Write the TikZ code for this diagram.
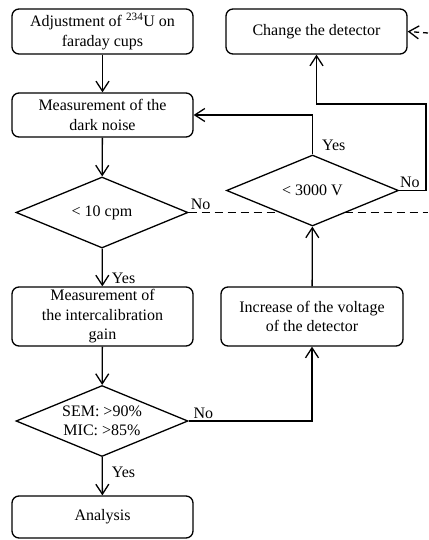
\documentclass[tikz,border=0pt]{standalone}
\usepackage{fontspec}
\setmainfont{Liberation Serif}
\usetikzlibrary{shapes.geometric,arrows.meta}
\tikzset{
  box/.style={draw,rounded corners=7pt,minimum width=181pt,inner sep=0pt,align=center,font=\fontsize{16}{19.5}\selectfont},
  test/.style={draw,diamond,aspect=2.4,minimum width=172pt,minimum height=71pt,inner sep=0pt,fill=white,align=center,font=\fontsize{16}{19.5}\selectfont},
  arr/.style={-{Straight Barb[length=10pt,width=13pt]}},
  lbl/.style={font=\fontsize{16}{19.5}\selectfont,inner sep=2pt}
}
\begin{document}
\begin{tikzpicture}[x=1pt,y=-1pt,line width=1.3pt]
        \useasboundingbox (0,0) rectangle (428,540);
        %Left column
        \node[box,minimum height=45pt] (adjust) at (102.5,31.5) {Adjustment of \textsuperscript{234}U on\\faraday cups};
        \node[box,minimum height=44pt] (dark) at (102.5,115) {Measurement of the\\dark noise};
        \node[test] (cpm) at (102,212.5) {< 10 cpm};
        %Dashed border
        \coordinate (edge) at (428,212.5);
        \draw[dashed,dash pattern=on 8pt off 5pt] (cpm.east) -- node[lbl,pos=0.05,above]{No} (edge);
        \node[test] (volt) at (312.5,190.5) {< 3000 V};
        \node[box,minimum height=59pt] (gain) at (102.5,316.5) {Measurement of\\the intercalibration\\gain};
        \node[test] (eff) at (102,421) {SEM: >90\%\\MIC: >85\%};
        \node[box,minimum height=42pt] (analysis) at (102.5,517) {Analysis};
        %Right column
        \node[box,minimum width=182pt,minimum height=59pt] (increase) at (312,316.5) {Increase of the voltage\\of the detector};
        \node[box,minimum height=45pt] (change) at (316.5,31.5) {Change the detector};
        \coordinate (turn) at (426,104);
        \coordinate (feed) at (428,33);

        %Arrows
        \draw[arr] (adjust) -- (dark);
        \draw[arr] (dark) -- (cpm);
        \draw[arr] (cpm) -- node[lbl,pos=0.8,right=7pt]{Yes} (gain);
        \draw[arr] (gain) -- (eff);
        \draw[arr] (eff) -- node[lbl,pos=0.4,right=7pt]{Yes} (analysis);
        \draw[arr] (eff.east) -| node[lbl,pos=0.06,above]{No} (increase.south);
        \draw[arr] (increase) -- (volt);
        \draw[arr] (volt.north) |- node[lbl,pos=0.12,right=7pt]{Yes} (dark.east);
        \draw[arr] (volt.east) -- node[lbl,pos=0.4,above]{No} (volt.east -| turn) -- (turn) -| (change.south);
        \draw[arr,dashed,dash pattern=on 5pt off 4pt] (feed) -- (change.east);
\end{tikzpicture}
\end{document}
